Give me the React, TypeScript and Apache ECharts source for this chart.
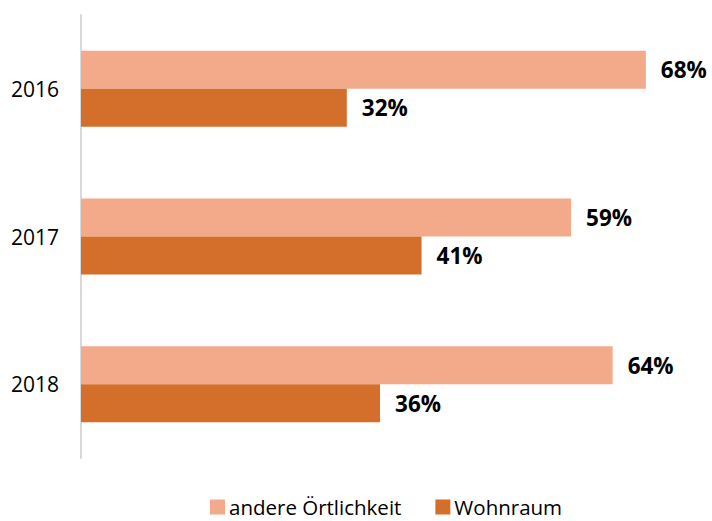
import React, { useEffect, useRef } from "react";
import * as echarts from "echarts";

const categories = ["2016", "2017", "2018"];
const andere = [68, 59, 64];
const wohnraum = [32, 41, 36];
const seriesNames = ["andere Örtlichkeit", "Wohnraum"];

const FONT = "'Open Sans', sans-serif";

export default function App() {
  const ref = useRef<HTMLDivElement>(null);
  useEffect(() => {
    document.body.style.margin = "0";
    document.body.style.overflow = "hidden";
    const chart = echarts.init(ref.current!, undefined, { renderer: "svg" });
    const label = {
      show: true,
      position: "right",
      distance: 15,
      formatter: "{c}%",
      color: "#000",
      fontWeight: "bold",
      fontSize: 22.5,
      fontFamily: FONT,
    };
    chart.setOption({
      animation: false,
      grid: { left: 81, top: 15, width: 623, height: 443 },
      xAxis: {
        type: "value",
        min: 0,
        max: 75,
        show: false,
      },
      yAxis: {
        type: "category",
        data: categories,
        inverse: true,
        axisLine: { show: true, lineStyle: { color: "#d9d9d9", width: 2 } },
        axisTick: { show: false },
        axisLabel: { color: "#000", fontSize: 21, fontFamily: FONT, margin: 22 },
      },
      legend: {
        bottom: 3,
        left: 210,
        padding: 0,
        itemWidth: 15,
        itemHeight: 15,
        itemGap: 34,
        icon: "rect",
        textStyle: { color: "#000", fontSize: 20.5, lineHeight: 22, fontFamily: FONT, padding: [0, 0, 0, -1] },
        data: seriesNames,
      },
      series: [
        {
          name: seriesNames[0],
          type: "bar",
          data: andere,
          barWidth: 38,
          barGap: "0%",
          itemStyle: { color: "#F2AA8B" },
          label,
        },
        {
          name: seriesNames[1],
          type: "bar",
          data: wohnraum,
          barWidth: 38,
          barGap: "0%",
          itemStyle: { color: "#D36F2B" },
          label,
        },
      ],
    });
    return () => chart.dispose();
  }, []);
  return <div ref={ref} style={{ width: 712, height: 521 }} />;
}
